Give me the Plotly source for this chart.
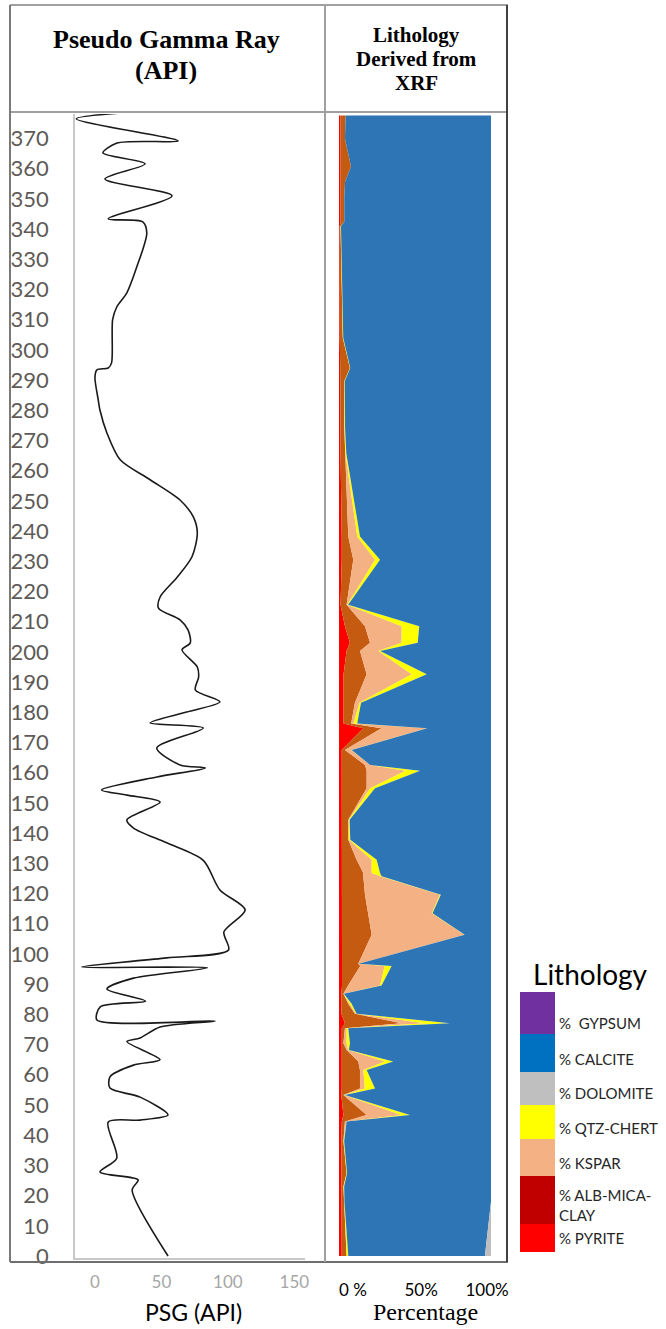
import plotly.graph_objects as go

# ---------------- DATA ----------------
# Pseudo gamma ray curve (depth, API)
psg_depth = [379, 376.5, 369.2, 368.5, 365.2, 361.6, 356.6, 351, 343.4, 342.4, 338.7, 327.5,
             318.9, 314.2, 310, 295.7, 294, 293.4, 291, 283.4, 280, 272.5, 263.6, 257, 250.3,
             244.7, 239.4, 231.5, 224.8, 218.2, 214.5, 210.6, 207.3, 203, 200.7, 195, 191.7,
             187.4, 183.5, 180.1, 176.5, 174.8, 168.2, 162.6, 161.6, 158.6, 154.3, 152.6, 150.3,
             144.4, 141.7, 136.8, 131, 121.2, 114.6, 107.3, 101.3, 98.7, 95.7, 95.4, 92, 88.4,
             84.4, 82.5, 78.1, 77.8, 75.8, 72.2, 71, 65, 63.2, 59.3, 55.6, 52.6, 46.7, 45, 44.4,
             32.4, 27.8, 25.2, 21.9, 0]
psg_api = [40, -14, 62.6, 16.6, 6, 37.7, 7.5, 58, 10, 36, 39, 31.5,
           24, 16.4, 13.3, 12.5, 10, 1.5, 0, 2.5, 3.8, 9, 19, 41.5, 64,
           74, 77, 73, 62, 49, 47.8, 64, 70, 71.7, 65.5, 77, 78,
           75.5, 94, 69, 41.5, 81.5, 46.5, 64, 83, 46.5, 5, 24, 49,
           24, 29, 54, 81.5, 94, 113, 97, 100.5, 54, -10, 84.5, 29, 9,
           38, 4, 1.5, 90.5, 49, 34, 24, 49, 29, 11.3, 11.3, 34, 55, 34, 10,
           16.4, 3.8, 32.5, 28, 55]

# XRF lithology (percent) by depth
lith_depth = [377.6, 370, 360.7, 355.7, 351, 342.5, 340.9, 304, 294, 289.6, 274, 265.8,
              238.2, 230.5, 215.6, 208.5, 203, 200.3, 192.6, 183.2, 176.3, 174.7, 167.5,
              162.6, 160.7, 154.9, 144.4, 137.8, 131.2, 126.8, 125.7, 119.6, 113.5, 106.4,
              96.8, 96.0, 89.6, 86.8, 83.5, 80.2, 77.1, 75.4, 70.4, 68.2, 64.4, 61.6, 55.5,
              53.3, 46.7, 44.5, 38, 27.4, 23, 18, 0]
pyrite = [1, 1, 1, 1, 1, 1, 0.5, 0.5, 0.8, 0.8, 1, 1,
          1.8, 1.8, 1, 3.9, 7.2, 5, 3, 3, 3, 16, 1.8,
          2, 2, 2, 2, 2, 2, 2, 2, 2, 2, 2,
          2, 2, 2, 1.5, 1.5, 1.5, 3.9, 1.8, 1.5, 1.5, 1.8, 1.8, 1.8,
          1.5, 2.9, 1.8, 1.5, 1.5, 1.5, 1.5, 1.8]
alb_mica_clay = [3.4, 2.9, 6.9, 3, 2.5, 2.5, 0.5, 2, 6.4, 2.7, 2.5, 2.9,
                 4.3, 7.6, 4, 13.2, 13.2, 8.8, 15.2, 7.5, 5, 12, 2.1,
                 15.1, 16.2, 16.2, 4.1, 4.1, 9.6, 14, 14, 15.1, 17.3, 19.5,
                 10.7, 12, 4, 1.4, 4.6, 9, 37.3, 2.1, 1.4, 3.5, 10.9, 12, 12,
                 1.4, 15.3, 2.1, 1.4, 3.5, 1.4, 1.6, 3.2]
kspar = [0, 0, 0, 0, 0, 0, 0, 0, 0, 0, 0.1, 0.3,
         5.9, 14.3, 0.5, 24.1, 20.8, 12.1, 29.6, 3, 1.5, 29.7, 4.1,
         3.4, 25.7, 2.3, 0.4, 0.4, 9.9, 5.5, 11, 49.3, 41.7, 61,
         0.3, 16, 21, 0.1, 0.9, 0.5, 15.4, 1.1, 2.1, 1, 17.6, 2.2, 3.2,
         0.6, 23, 1.1, 0.1, 0, 0.1, 0.1, 0]
qtz_chert = [0, 0, 0, 0, 0, 0, 0.3, 0.3, 0.2, 0.3, 0.4, 0.6,
             1.8, 3.3, 0.5, 11.6, 10.6, 1.1, 9.9, 1, 2.5, 0.3, 0.3,
             0, 9.4, 3.2, 0.5, 0.9, 3.3, 5.5, 1, 0.6, 0.5, 0.2,
             0, 4.6, 1, 0.2, 1.3, 0.6, 16.4, 1.1, 2.2, 0.5, 5.4, 2.2, 6.7,
             0.3, 5.5, 0, 0.4, 0.3, 0.4, 0.4, 1.1]
calcite = [95.6, 96.1, 92.1, 96, 96.5, 96.5, 98.7, 97.2, 92.6, 96.2, 96, 95.2,
           86.2, 73, 94, 47.2, 48.2, 73, 42.3, 85.5, 88, 42, 91.7,
           79.5, 46.7, 76.3, 93, 92.6, 75.2, 73, 72, 33, 38.5, 17.3,
           87, 65.4, 72, 96.8, 91.7, 88.4, 27, 93.9, 92.8, 93.5, 64.3, 81.8, 76.3,
           96.2, 53.3, 95, 96.6, 94.7, 96.6, 96.4, 89.9]
dolomite = [0] * 54 + [4]
gypsum = [0] * 55

depth_ticks = list(range(0, 380, 10))
psg_ticks = [0, 50, 100, 150]
pct_tick_text = ["0 %", "50%", "100%"]
pct_tick_pos = [9.2, 54, 97.4]

legend_names = ["%  GYPSUM", "% CALCITE", "% DOLOMITE", "% QTZ-CHERT", "% KSPAR",
                "% ALB-MICA-<br>CLAY", "% PYRITE"]
legend_colors = ["#7030A0", "#0070C0", "#BFBFBF", "#FFFF00", "#F4B183", "#C00000", "#FF0000"]

# ---------------- FIGURE ----------------
W, H = 666, 1329


def px(x):
    return x / W


def py(y):
    return 1 - y / H


fig = go.Figure()

fig.add_trace(go.Scatter(x=psg_api, y=psg_depth, mode="lines",
                         line=dict(color="#1a1a1a", width=1.6, shape="spline", smoothing=0.8),
                         xaxis="x", yaxis="y", showlegend=False, hoverinfo="skip"))

series = [("PYRITE", pyrite, "#FF0000"),
          ("ALB-MICA-CLAY", alb_mica_clay, "#C55A11"),
          ("KSPAR", kspar, "#F4B183"),
          ("QTZ-CHERT", qtz_chert, "#FFFF00"),
          ("CALCITE", calcite, "#2E75B6"),
          ("DOLOMITE", dolomite, "#BFBFBF"),
          ("GYPSUM", gypsum, "#7030A0")]
for name, vals, col in series:
    fig.add_trace(go.Scatter(x=vals, y=lith_depth, name=name, mode="lines",
                             stackgroup="lith", orientation="h",
                             line=dict(width=0, color=col), fillcolor=col,
                             xaxis="x2", yaxis="y2", showlegend=False, hoverinfo="skip"))

y_dom = [py(1258), py(114)]
y_rng = [-0.66, 378.1]

fig.update_layout(
    width=W, height=H, margin=dict(l=0, r=0, t=0, b=0, autoexpand=False),
    paper_bgcolor="white", plot_bgcolor="white",
    xaxis=dict(domain=[px(75), px(305)], range=[-15, 158], tickvals=psg_ticks,
               showgrid=False, zeroline=False, showline=True, linecolor="#C8C8C8", linewidth=2,
               ticks="", tickfont=dict(family="Lato", size=17, color="#A6A6A6"),
               ticklabelstandoff=8, anchor="y", fixedrange=True, automargin=False),
    yaxis=dict(domain=y_dom, range=y_rng, tickvals=depth_ticks,
               showgrid=False, zeroline=False, showline=True, linecolor="#C8C8C8", linewidth=1.5,
               ticks="", tickfont=dict(family="Lato", size=22, color="#5E5A57"),
               ticklabelstandoff=20, anchor="x", fixedrange=True, automargin=False),
    xaxis2=dict(domain=[px(339), px(491)], range=[0, 100], tickvals=pct_tick_pos,
                ticktext=pct_tick_text, showgrid=False, zeroline=False, showline=False,
                ticks="", tickfont=dict(family="Lato", size=17, color="#000000"),
                ticklabelstandoff=20, anchor="y2", fixedrange=True, automargin=False),
    yaxis2=dict(domain=y_dom, range=y_rng, visible=False, anchor="x2", fixedrange=True,
                automargin=False),
)

# table borders
shapes = []
def hline(y, x0, x1, color, w):
    shapes.append(dict(type="line", xref="paper", yref="paper", x0=px(x0), x1=px(x1),
                       y0=py(y), y1=py(y), line=dict(color=color, width=w)))
def vline(x, y0, y1, color, w):
    shapes.append(dict(type="line", xref="paper", yref="paper", x0=px(x), x1=px(x),
                       y0=py(y0), y1=py(y1), line=dict(color=color, width=w)))

hline(5, 10, 508, "#A0A0A0", 2)
hline(112, 10, 508, "#A0A0A0", 2)
hline(1262, 10, 508, "#6E6E6E", 2)
vline(10, 5, 1262, "#7A7A7A", 2)
vline(325, 5, 1262, "#A0A0A0", 2)
vline(507, 5, 1262, "#404040", 2)

# legend blocks
leg_bounds = [992, 1034, 1072, 1105, 1139, 1176, 1224, 1252]
for i, c in enumerate(legend_colors):
    shapes.append(dict(type="rect", xref="paper", yref="paper", x0=px(520), x1=px(555),
                       y0=py(leg_bounds[i + 1]), y1=py(leg_bounds[i]),
                       fillcolor=c, line=dict(width=0)))
fig.update_layout(shapes=shapes)

ann = []
for t, yy in [("<b>Pseudo Gamma Ray</b>", 39), ("<b>(API)</b>", 71)]:
    ann.append(dict(text=t, x=px(166), y=py(yy),
                    font=dict(family="Liberation Serif", size=26, color="#000")))
for t, yy in [("<b>Lithology</b>", 35), ("<b>Derived from</b>", 59), ("<b>XRF</b>", 83)]:
    ann.append(dict(text=t, x=px(416), y=py(yy),
                    font=dict(family="Liberation Serif", size=21, color="#000")))
ann.append(dict(text="PSG (API)", x=px(193), y=py(1312),
                font=dict(family="Lato", size=23, color="#000")))
ann.append(dict(text="Percentage", x=px(425), y=py(1312),
                font=dict(family="Liberation Serif", size=24, color="#000")))
ann.append(dict(text="Lithology", x=px(590), y=py(974),
                font=dict(family="Lato", size=28, color="#000")))
leg_text_y = [1023, 1059, 1093, 1128, 1163, 1205, 1238]
for t, yy in zip(legend_names, leg_text_y):
    ann.append(dict(text=t, x=px(557), y=py(yy), xanchor="left", align="left",
                    font=dict(family="Lato", size=15, color="#262626")))
for a in ann:
    a.update(xref="paper", yref="paper", showarrow=False)
    a.setdefault("xanchor", "center")
    a["yanchor"] = "middle"
fig.update_layout(annotations=ann)

fig.write_html("out.html")
